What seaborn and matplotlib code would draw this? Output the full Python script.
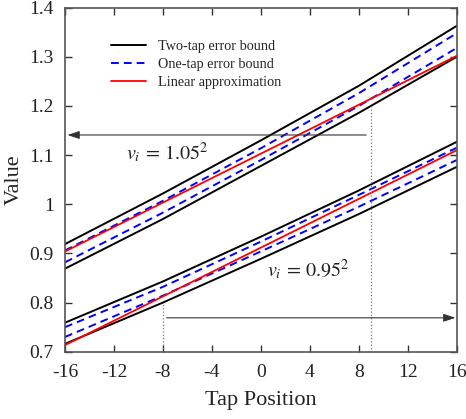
import matplotlib
matplotlib.use("Agg")
import matplotlib.pyplot as plt
import seaborn as sns
import numpy as np
import pandas as pd

# ---- data ----
tap = [-16, -8, 0, 8, 16]

# v_i = 1.05^2 group
hi_two_upper = [0.919, 1.022, 1.130, 1.241, 1.363]
hi_two_lower = [0.869, 0.970, 1.078, 1.186, 1.300]
hi_one_upper = [0.906, 1.007, 1.114, 1.226, 1.348]
hi_one_lower = [0.882, 0.983, 1.090, 1.200, 1.318]
hi_linear = [0.904, 1.0035, 1.103, 1.2025, 1.302]

# v_i = 0.95^2 group
lo_two_upper = [0.759, 0.843, 0.934, 1.028, 1.127]
lo_two_lower = [0.716, 0.800, 0.889, 0.980, 1.076]
lo_one_upper = [0.750, 0.832, 0.924, 1.019, 1.115]
lo_one_lower = [0.730, 0.814, 0.904, 0.995, 1.090]
lo_linear = [0.7135, 0.8126, 0.9118, 1.0109, 1.110]

legend_labels = ["Two-tap error bound", "One-tap error bound", "Linear approximation"]
x_ticks = [-16, -12, -8, -4, 0, 4, 8, 12, 16]
y_ticks = [0.7, 0.8, 0.9, 1.0, 1.1, 1.2, 1.3, 1.4]
y_tick_labels = ["0.7", "0.8", "0.9", "1", "1.1", "1.2", "1.3", "1.4"]

sns.set_theme(style="ticks")
plt.rcParams["font.family"] = ["Liberation Serif", "DejaVu Serif"]
plt.rcParams["mathtext.fontset"] = "stix"

fig = plt.figure(figsize=(4.66, 4.19), dpi=100)
ax = fig.add_axes([0.1395, 0.1606, 0.8405, 0.821])

styles = {
    "two": dict(color="black", linewidth=1.4, linestyle="-"),
    "one": dict(color="#0000ff", linewidth=1.4, dashes=(4, 2.6)),
    "lin": dict(color="#ff0000", linewidth=1.3, linestyle="-"),
}

groups = [
    (hi_two_upper, hi_two_lower, hi_one_upper, hi_one_lower, hi_linear),
    (lo_two_upper, lo_two_lower, lo_one_upper, lo_one_lower, lo_linear),
]
for gi, (tu, tl, ou, ol, li) in enumerate(groups):
    lab = (gi == 0)
    sns.lineplot(x=tap, y=tu, ax=ax, label=legend_labels[0] if lab else None, **styles["two"])
    sns.lineplot(x=tap, y=tl, ax=ax, **styles["two"])
    sns.lineplot(x=tap, y=ou, ax=ax, label=legend_labels[1] if lab else None, **styles["one"])
    sns.lineplot(x=tap, y=ol, ax=ax, **styles["one"])
    sns.lineplot(x=tap, y=li, ax=ax, label=legend_labels[2] if lab else None, **styles["lin"])

# reference dotted verticals
ax.plot([9, 9], [0.7, 1.2], color="#777777", linestyle=":", linewidth=0.9)
ax.plot([-8, -8], [0.7, 0.80], color="#777777", linestyle=":", linewidth=0.9)

# arrows
arrow_kw = dict(arrowstyle="-|>,head_length=0.6,head_width=0.2", color="#333333", lw=0.8,
                shrinkA=0, shrinkB=0)
ax.annotate("", xy=(-15.8, 1.141), xytext=(8.6, 1.141), arrowprops=arrow_kw)
ax.annotate("", xy=(15.9, 0.769), xytext=(-7.7, 0.769), arrowprops=arrow_kw)

ax.text(-11.0, 1.106, r"$v_i\, =\, 1.05^2$", fontsize=14.5, va="center", ha="left", color="#222222")
ax.text(0.5, 0.868, r"$v_i\, =\, 0.95^2$", fontsize=14.5, va="center", ha="left", color="#222222")

ax.set_xlim(-16, 16)
ax.set_ylim(0.7, 1.4)
ax.set_xticks(x_ticks)
ax.set_xticklabels([str(t) for t in x_ticks])
ax.set_yticks(y_ticks)
ax.set_yticklabels(y_tick_labels)
ax.tick_params(direction="in", top=True, right=True, length=5, width=1.0,
               labelsize=14, colors="#333333", labelcolor="#222222")
ax.tick_params(axis="x", pad=9)
ax.tick_params(axis="y", pad=8)
for s in ax.spines.values():
    s.set_visible(True)
    s.set_color("#555555")
    s.set_linewidth(1.2)
ax.set_xlabel("Tap Position", fontsize=16, color="#222222", labelpad=7)
ax.set_ylabel("Value", fontsize=16, color="#222222", labelpad=4)

leg = ax.legend(loc="upper left", bbox_to_anchor=(0.085, 0.945), frameon=False, fontsize=10.3,
                handlelength=2.4, handletextpad=0.9, labelspacing=0.35)

fig.savefig("out.png", dpi=100)
